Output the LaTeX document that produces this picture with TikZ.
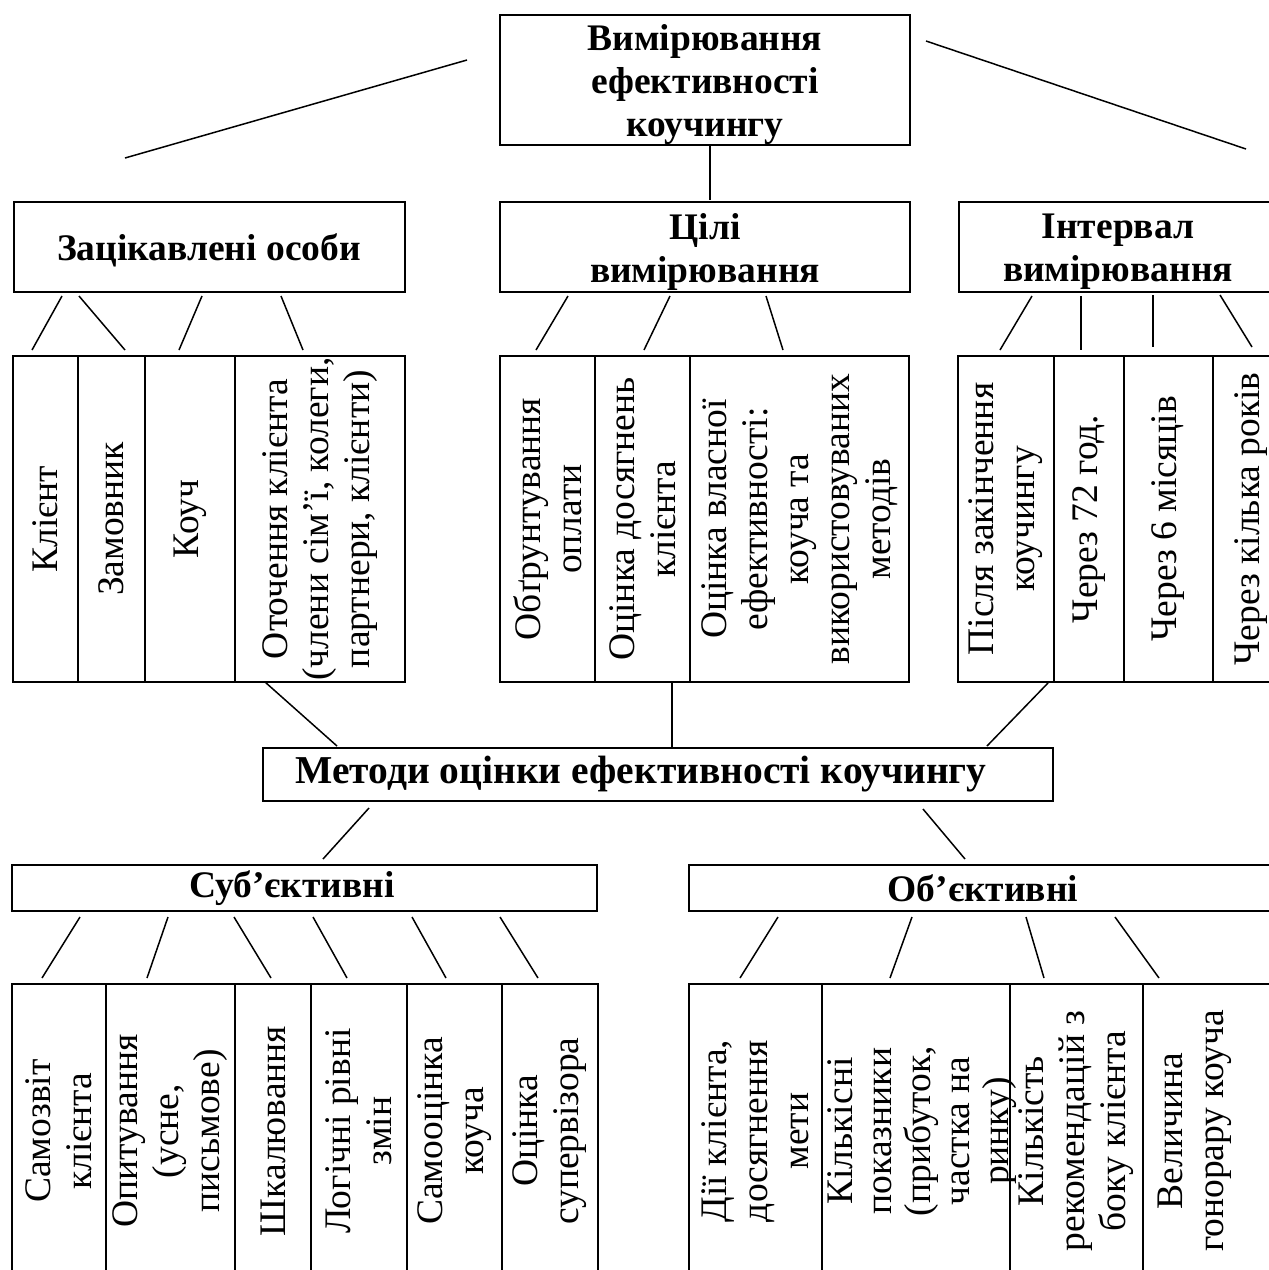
\documentclass[tikz,border=0pt]{standalone}
\usepackage{fontspec}
\setmainfont{Liberation Serif}
\newcommand\mkbox[5]{\node[box, minimum width={#3-#2}, minimum height={#5-#4}] (#1) at ({(#2+#3)/2},{(#4+#5)/2}) {};}
\newcommand\mkcell[6]{\node[cellfr, minimum width={#3-#2}, minimum height={#5-#4}] (#1) at ({(#2+#3)/2},{(#4+#5)/2}) {};
  \node[vt] (#1-t) at (#1.center) {#6};}
\begin{document}
\begin{tikzpicture}[x=1pt,y=-1pt,
  box/.style={draw, line width=2.6pt, inner sep=0pt},
  cellfr/.style={draw, line width=2.4pt, inner sep=0pt},
  vt/.style={rotate=90, align=center, font=\fontsize{37.5}{41}\selectfont, inner sep=0pt},
  hd/.style={align=center, font=\fontsize{37.5}{43}\selectfont\bfseries, inner sep=0pt},
  link/.style={line width=1.5pt}]
\useasboundingbox (0,0) rectangle (1269,1270);
\fill[white] (0,0) rectangle (1269,1270);
\clip (0,0) rectangle (1269,1270);

% top level
\mkbox{top}{500}{910}{15}{145}
\node[hd] (top-t) at (705,85) {Вимірювання\\ефективності\\коучингу};

\mkbox{zac}{14}{405}{202}{292}
\node[hd] (zac-t) at (209,250) {Зацікавлені особи};
\mkbox{tsil}{500}{910}{202}{292}
\node[hd] (tsil-t) at (705,252) {Цілі\\вимірювання};
\mkbox{intv}{959}{1278}{202}{292}
\node[hd] (intv-t) at (1118,252) {Інтервал\\вимірювання};

% top row cells
\mkcell{c1}{13}{78}{356}{682}{Клієнт}
\mkcell{c2}{78}{145}{356}{682}{Замовник}
\mkcell{c3}{145}{235}{356}{682}{Коуч}
\mkcell{c4}{235}{405}{356}{682}{Оточення клієнта\\(члени сім’ї, колеги,\\партнери, клієнти)}
\mkcell{g1}{500}{595}{356}{682}{Обґрунтування\\оплати}
\mkcell{g2}{595}{690}{356}{682}{Оцінка досягнень\\клієнта}
\mkcell{g3}{690}{909}{356}{682}{Оцінка власної\\ефективності:\\коуча та\\використовуваних\\методів}
\mkcell{i1}{958}{1054}{356}{682}{Після закінчення\\коучингу}
\mkcell{i2}{1054}{1124}{356}{682}{Через 72 год.}
\mkcell{i3}{1124}{1213}{356}{682}{Через 6 місяців}
\mkcell{i4}{1213}{1290}{356}{682}{Через кілька років}

% methods
\mkbox{meth}{263}{1053}{748}{801}
\node[hd, font=\fontsize{39.5}{43}\selectfont\bfseries] (meth-t) at (641,774) {Методи оцінки ефективності коучингу};
\mkbox{sub}{12}{597}{865}{911}
\node[hd] (sub-t) at (292,888) {Суб’єктивні};
\mkbox{obj}{689}{1275}{865}{911}
\node[hd] (obj-t) at (983,888) {Об’єктивні};

% bottom cells
\mkcell{s1}{12}{106}{984}{1278}{Самозвіт\\клієнта}
\mkcell{s2}{106}{235}{984}{1278}{Опитування\\(усне,\\письмове)}
\mkcell{s3}{235}{311}{984}{1278}{Шкалювання}
\mkcell{s4}{311}{407}{984}{1278}{Логічні рівні\\змін}
\mkcell{s5}{407}{502}{984}{1278}{Самооцінка\\коуча}
\mkcell{s6}{502}{598}{984}{1278}{Оцінка\\супервізора}
\mkcell{o1}{689}{822}{984}{1278}{Дії клієнта,\\досягнення\\мети}
\node[cellfr, minimum width=188, minimum height=294] (o2) at (916,1131) {};
\node[vt, font=\fontsize{37.5}{39}\selectfont] (o2-t) at (922,1131) {Кількісні\\показники\\(прибуток,\\частка на\\ринку)};
\mkcell{o3}{1010}{1143}{984}{1278}{Кількість\\рекомендацій з\\боку клієнта}
\node[cellfr, minimum width=147, minimum height=294] (o4) at (1216.5,1131) {};
\node[vt] (o4-t) at (1195,1131) {Величина\\гонорару коуча};

% connectors
\draw[link] (467,60) -- (125,158);
\draw[link] (926,41) -- (1246,149);
\draw[link] (710,146) -- (710,200);

\draw[link] (62,296) -- (32,350);
\draw[link] (79,296) -- (125,350);
\draw[link] (202,296) -- (179,350);
\draw[link] (281,296) -- (303,350);

\draw[link] (568,296) -- (536,350);
\draw[link] (670,296) -- (644,350);
\draw[link] (766,296) -- (783,350);

\draw[link] (1032,296) -- (1000,350);
\draw[link] (1081,296) -- (1081,350);
\draw[link] (1153,295) -- (1153,347);
\draw[link] (1220,295) -- (1252,347);

\draw[link] (265,682) -- (337,746);
\draw[link] (672,682) -- (672,747);
\draw[link] (1048,683) -- (987,746);

\draw[link] (369,808) -- (323,859);
\draw[link] (923,809) -- (965,859);

\draw[link] (80,917) -- (42,978);
\draw[link] (168,917) -- (147,978);
\draw[link] (234,917) -- (271,978);
\draw[link] (313,917) -- (347,978);
\draw[link] (412,917) -- (446,978);
\draw[link] (500,917) -- (538,978);

\draw[link] (778,917) -- (740,978);
\draw[link] (912,917) -- (890,978);
\draw[link] (1026,917) -- (1044,978);
\draw[link] (1115,917) -- (1159,978);
\end{tikzpicture}
\end{document}
